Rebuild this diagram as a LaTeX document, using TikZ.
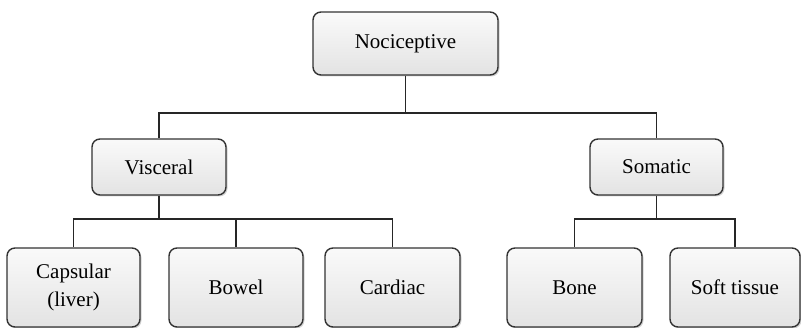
\documentclass[tikz,border=0pt]{standalone}
\usepackage{fontspec}
\setmainfont{Liberation Serif}
\usetikzlibrary{shadows}
\begin{document}
\begin{tikzpicture}[x=1pt,y=1pt,
  box/.style={draw=black!80, line width=1.4pt, rounded corners=8pt,
    top color=gray!4, bottom color=gray!22,
    drop shadow={opacity=0.35, shadow xshift=1.5pt, shadow yshift=-1.5pt, fill=gray},
    align=center, inner sep=0pt,
    font=\fontsize{21}{28}\selectfont},
  conn/.style={draw=black!85, line width=1.2pt}]
\useasboundingbox (0,0) rectangle (801,328);
% nodes (y = 328 - pixel y)
\node[box, minimum width=185, minimum height=63] (noc) at (405.5,284.5) {Nociceptive};
\node[box, minimum width=134, minimum height=56] (vis) at (159,161) {Visceral};
\node[box, minimum width=133, minimum height=56] (som) at (656.5,161) {Somatic};
\node[box, minimum width=133, minimum height=79] (cap) at (73.5,40.5) {Capsular\\(liver)};
\node[box, minimum width=134, minimum height=79] (bow) at (236,40.5) {Bowel};
\node[box, minimum width=135, minimum height=79] (car) at (392.5,40.5) {Cardiac};
\node[box, minimum width=135, minimum height=79] (bon) at (574.5,40.5) {Bone};
\node[box, minimum width=130, minimum height=79] (sof) at (735,40.5) {Soft tissue};
% bus coordinates
\coordinate (b1) at (405.5,215);
\coordinate (b2) at (159,109);
\coordinate (b3) at (656.5,109);
% connectors
\draw[conn] (noc.south) -- (b1);
\draw[conn] (b1) -| (vis.north);
\draw[conn] (b1) -| (som.north);
\draw[conn] (vis.south) -- (b2);
\draw[conn] (b2) -| (cap.north);
\draw[conn] (b2) -| (bow.north);
\draw[conn] (b2) -| (car.north);
\draw[conn] (som.south) -- (b3);
\draw[conn] (b3) -| (bon.north);
\draw[conn] (b3) -| (sof.north);
\end{tikzpicture}
\end{document}
